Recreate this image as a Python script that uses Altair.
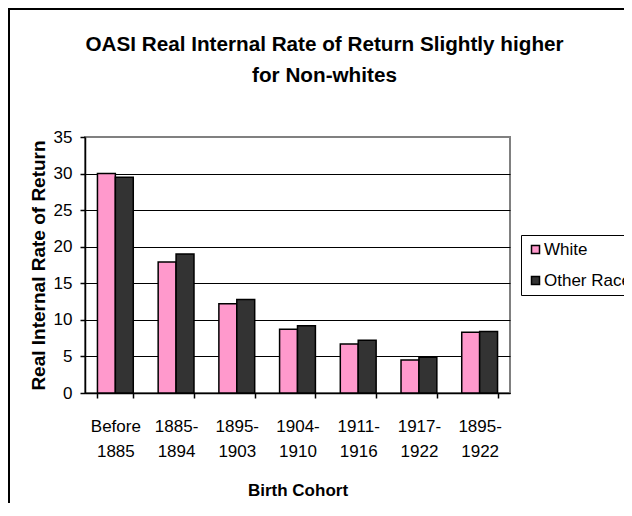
import altair as alt
import pandas as pd

cohort_top = ["Before", "1885-", "1895-", "1904-", "1911-", "1917-", "1895-"]
cohort_bottom = ["1885", "1894", "1903", "1910", "1916", "1922", "1922"]
white = [30.0, 17.9, 12.2, 8.7, 6.7, 4.5, 8.3]
other = [29.5, 19.0, 12.8, 9.2, 7.2, 4.9, 8.4]
series = ["White", "Other Races"]
colors = ["#FF99CC", "#333333"]
y_ticks = [0, 5, 10, 15, 20, 25, 30, 35]

cohorts = [t + " " + b for t, b in zip(cohort_top, cohort_bottom)]
rows = []
for c, w, o in zip(cohorts, white, other):
    rows.append({"cohort": c, "series": series[0], "value": w})
    rows.append({"cohort": c, "series": series[1], "value": o})
df = pd.DataFrame(rows)

FONT = "Liberation Sans"

bars = alt.Chart(df).mark_bar(stroke="black", strokeWidth=1.5).encode(
    x=alt.X(
        "cohort:N",
        sort=cohorts,
        scale=alt.Scale(paddingInner=0.41, paddingOuter=0.205),
        axis=alt.Axis(
            title="Birth Cohort",
            labelExpr="isString(datum.value) ? split(datum.value, ' ') : ''",
            labelAngle=0,
            labelLineHeight=25,
            labelPadding=20,
            tickBand="extent",
            titlePadding=23,
            titleFontSize=17,
        ),
    ),
    xOffset=alt.XOffset("series:N", sort=series, scale=alt.Scale(paddingInner=0, paddingOuter=0)),
    y=alt.Y(
        "value:Q",
        scale=alt.Scale(domain=[0, 35], nice=False),
        axis=alt.Axis(
            title="Real Internal Rate of Return",
            values=y_ticks,
            grid=True,
            gridColor=alt.condition("datum.value == 35", alt.value("#808080"), alt.value("black")),
            gridWidth=1,
            labelPadding=8,
            titlePadding=5,
            titleFontSize=19,
        ),
    ),
    color=alt.Color(
        "series:N",
        sort=series,
        scale=alt.Scale(domain=series, range=colors),
        legend=alt.Legend(
            title=None,
            orient="none",
            legendX=436,
            legendY=98,
            direction="vertical",
            symbolType="square",
            symbolSize=64,
            symbolStrokeColor="black",
            symbolStrokeWidth=1.5,
            symbolOpacity=1,
            labelFontSize=17,
            labelFont=FONT,
            labelColor="black",
            labelOffset=0,
            strokeColor="black",
            fillColor="white",
            padding=6,
            rowPadding=13,
        ),
    ),
)

frame = alt.Chart(pd.DataFrame({"a": [0]})).mark_rect(
    fill="transparent", stroke="black", strokeWidth=2
).encode(
    x=alt.value(-76), x2=alt.value(700), y=alt.value(-128), y2=alt.value(700)
)

chart = alt.layer(bars, frame).properties(
    width=425,
    height=256,
    autosize=alt.AutoSizeParams(type="none"),
    padding={"left": 77, "top": 129, "right": 114, "bottom": 110},
    background="white",
    title=alt.TitleParams(
        ["OASI Real Internal Rate of Return Slightly higher", "for Non-whites"],
        font=FONT,
        fontSize=20.7,
        fontWeight="bold",
        color="black",
        anchor="middle",
        frame="group",
        dx=27,
        offset=-79,
        lineHeight=31,
    ),
).configure_view(
    stroke="#808080", strokeWidth=2
).configure_axis(
    labelFont=FONT,
    labelFontSize=17,
    labelColor="black",
    titleFont=FONT,
    titleFontWeight="bold",
    titleColor="black",
    domainColor="black",
    domainWidth=1.5,
    tickColor="black",
    tickWidth=1.5,
    tickSize=5,
)

chart.save("out.html", embed_options={"renderer": "svg", "actions": False})
